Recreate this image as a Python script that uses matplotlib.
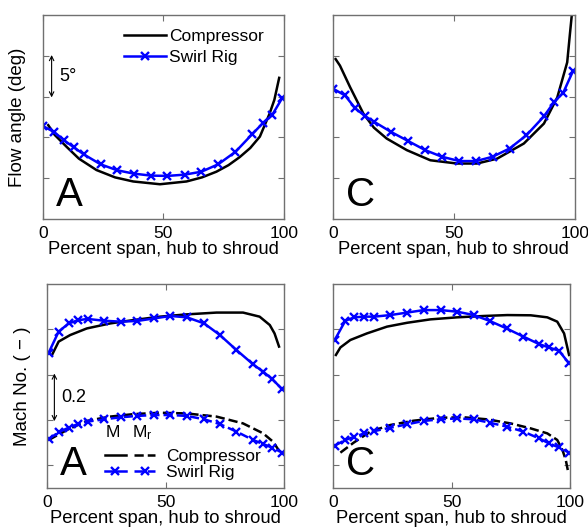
import matplotlib
matplotlib.use("Agg")
import matplotlib.pyplot as plt

plt.rcParams['font.family'] = ['Liberation Sans', 'DejaVu Sans']
plt.rcParams['font.size'] = 12
plt.rcParams['mathtext.default'] = 'regular'
plt.rcParams['legend.numpoints'] = 1

BLUE = '#0000ff'

# ---------------- flow angle, case A (deg, arbitrary offset) ----------------
angA_comp_x = [2.3, 5, 9.9, 15, 22.3, 30, 37.5, 48.6, 59.6, 66, 72, 77, 81.7, 86, 90, 94, 96, 98]
angA_comp_y = [11.5, 10.3, 8.85, 7.4, 6.0, 5.1, 4.6, 4.26, 4.6, 5.1, 5.8, 6.6, 7.6, 8.7, 10.1, 12.9, 14.6, 17.3]
swirl_x = [0.3, 4.7, 8.8, 13, 17.1, 24, 30.9, 37.8, 44.8, 51.7, 58.9, 65.8, 72.7, 79.9, 86.8, 91.3, 95, 99.3]
angA_swirl_y = [11.36, 10.67, 9.66, 8.77, 7.91, 6.7, 5.97, 5.56, 5.32, 5.28, 5.44, 5.8, 6.7, 8.24, 10.39, 11.77, 12.7, 14.85]

# ---------------- flow angle, case C ----------------
angC_comp_x = [1.2, 3, 7.2, 12.7, 17, 22.3, 30.6, 40.3, 51.3, 59.6, 67.9, 78.9, 87.2, 92.7, 96.8, 97.9, 99.2]
angC_comp_y = [19.6, 18.8, 16.15, 12.9, 11.2, 9.86, 8.44, 7.2, 6.8, 6.8, 7.4, 9.25, 11.7, 14.9, 19.2, 22.6, 26.5]
angC_swirl_x = [0.3, 5.1, 9.2, 13.4, 17.2, 24.1, 31, 38.2, 45.1, 52.3, 59.2, 66, 73, 80, 87.2, 91.3, 95.2, 99.3]
angC_swirl_y = [15.95, 15.14, 13.6, 12.6, 11.9, 10.67, 9.58, 8.44, 7.63, 7.1, 7.1, 7.63, 8.64, 10.27, 12.58, 14.3, 15.5, 18.2]

# ---------------- Mach numbers, case A ----------------
machA_comp_x = [2, 4.8, 9.7, 16.7, 26.5, 36.4, 47.6, 58.8, 71.5, 82.7, 89.7, 94, 96, 97.9]
machA_comp_M = [0.687, 0.746, 0.775, 0.804, 0.826, 0.841, 0.856, 0.866, 0.874, 0.874, 0.856, 0.819, 0.782, 0.724]
machA_comp_Mr_x = [0.6, 8.3, 16.7, 26.5, 36.4, 47.6, 58.8, 71.5, 82.7, 91.2, 95.4, 98.2]
machA_comp_Mr = [0.312, 0.356, 0.396, 0.415, 0.426, 0.432, 0.429, 0.415, 0.385, 0.341, 0.304, 0.26]
mach_swirl_x = [0.6, 4.8, 9, 12.9, 17, 24, 31, 38, 45, 52, 59, 66.3, 72.9, 79.9, 86.9, 91.2, 95, 99.3]
machA_swirl_M = [0.697, 0.79, 0.826, 0.84, 0.846, 0.838, 0.834, 0.837, 0.848, 0.859, 0.853, 0.826, 0.775, 0.709, 0.646, 0.613, 0.581, 0.535]
machA_swirl_Mr = [0.316, 0.346, 0.366, 0.382, 0.393, 0.403, 0.412, 0.418, 0.422, 0.422, 0.418, 0.403, 0.382, 0.349, 0.312, 0.294, 0.278, 0.256]

# ---------------- Mach numbers, case C ----------------
machC_comp_x = [1.1, 3, 7.2, 14.2, 22.7, 31.2, 41, 52.3, 63.6, 73.5, 83.4, 90.4, 94.6, 97.5, 99.6]
machC_comp_M = [0.687, 0.72, 0.753, 0.782, 0.812, 0.829, 0.844, 0.853, 0.859, 0.863, 0.862, 0.853, 0.834, 0.782, 0.687]
machC_comp_Mr_x = [3, 8.6, 15.7, 24.1, 34, 45.3, 55.1, 65, 74.9, 83.4, 90.4, 94.6, 96.8, 98.2, 99.2]
machC_comp_Mr = [0.256, 0.3, 0.349, 0.378, 0.397, 0.41, 0.412, 0.403, 0.385, 0.363, 0.341, 0.312, 0.268, 0.224, 0.172]
machC_swirl_x = [0.6, 5.1, 8.9, 13.1, 17.3, 24.1, 31.2, 38.2, 45.3, 52.3, 59.4, 66.1, 73.2, 80.3, 86.9, 91.1, 95.3, 99.6]
machC_swirl_M = [0.753, 0.838, 0.853, 0.856, 0.856, 0.863, 0.874, 0.885, 0.885, 0.878, 0.863, 0.837, 0.804, 0.768, 0.735, 0.72, 0.706, 0.65]
machC_swirl_Mr = [0.287, 0.312, 0.326, 0.341, 0.351, 0.366, 0.381, 0.396, 0.403, 0.407, 0.403, 0.388, 0.371, 0.349, 0.319, 0.297, 0.279, 0.256]

xticks = [0, 50, 100]
xlabel = 'Percent span, hub to shroud'

fig = plt.figure(figsize=(5.88, 5.29), dpi=100)
ax_tl = fig.add_axes([0.0726, 0.586, 0.4104, 0.3856])
ax_tr = fig.add_axes([0.5658, 0.586, 0.412, 0.3856])
ax_bl = fig.add_axes([0.0804, 0.0775, 0.4026, 0.3856])
ax_br = fig.add_axes([0.5668, 0.0775, 0.4026, 0.3856])


def style(ax, ylim, yticks, letter):
    ax.set_xlim(0, 100)
    ax.set_ylim(*ylim)
    ax.set_xticks(xticks)
    ax.set_yticks(yticks)
    ax.set_yticklabels([])
    ax.tick_params(direction='in', length=4, width=0.8, color='#707070',
                   top=True, right=True, labelsize=12.5, pad=5)
    for s in ax.spines.values():
        s.set_color('#707070')
        s.set_linewidth(1)
    ax.set_xlabel(xlabel, fontsize=13.2, labelpad=0)
    ax.text(0.055, 0.025, letter, transform=ax.transAxes, fontsize=29,
            ha='left', va='bottom')


lw = 1.8
mk = dict(marker='x', markersize=5.5, markeredgewidth=1.7)

# flow angle panels
l1, = ax_tl.plot(angA_comp_x, angA_comp_y, color='k', lw=lw, label='Compressor')
l2, = ax_tl.plot(swirl_x, angA_swirl_y, color=BLUE, lw=lw, label='Swirl Rig', **mk)
style(ax_tl, (0, 25), [5, 10, 15, 20], 'A')
ax_tl.set_ylabel('Flow angle (deg)', fontsize=13.5, labelpad=7)
ax_tl.legend(handles=[l1, l2], loc='upper left', bbox_to_anchor=(0.28, 1.0),
             frameon=False, handlelength=2.4, handletextpad=0.2, labelspacing=0.35,
             borderpad=0.3, fontsize=12.5, numpoints=1)
# 5 degree scale bar
ax_tl.annotate('', xy=(3.7, 20.1), xytext=(3.7, 14.9),
               arrowprops=dict(arrowstyle='<->', color='k', lw=0.8, shrinkA=0, shrinkB=0,
                               mutation_scale=8))
ax_tl.text(7.0, 17.5, '5°', fontsize=13, va='center')

ax_tr.plot(angC_comp_x, angC_comp_y, color='k', lw=lw)
ax_tr.plot(angC_swirl_x, angC_swirl_y, color=BLUE, lw=lw, **mk)
style(ax_tr, (0, 25), [5, 10, 15, 20], 'C')

# Mach number panels
m1, = ax_bl.plot(machA_comp_x, machA_comp_M, color='k', lw=lw)
m2, = ax_bl.plot(machA_comp_Mr_x, machA_comp_Mr, color='k', lw=lw, ls='--')
m3, = ax_bl.plot(mach_swirl_x, machA_swirl_M, color=BLUE, lw=lw, **mk)
m4, = ax_bl.plot(mach_swirl_x, machA_swirl_Mr, color=BLUE, lw=lw, ls='--', **mk)
style(ax_bl, (0.1, 1.0), [0.2, 0.4, 0.6, 0.8], 'A')
ax_bl.set_ylabel('Mach No. ( \u2212 )', fontsize=13.5, labelpad=7)
ax_bl.legend(handles=[m1, m3, m2, m4], labels=['', '', 'Compressor', 'Swirl Rig'],
             ncol=2, loc='lower left', bbox_to_anchor=(0.185, -0.03), frameon=False,
             handlelength=1.2, handletextpad=0.6, columnspacing=-0.1,
             labelspacing=0.05, borderpad=0.3, fontsize=12.5, numpoints=1)
ax_bl.text(0.275, 0.27, 'M', transform=ax_bl.transAxes, ha='center', va='center',
           fontsize=12.5)
ax_bl.text(0.36, 0.27, 'M$_{r}$', transform=ax_bl.transAxes, ha='left', va='center',
           fontsize=12.5)
# 0.2 scale bar
ax_bl.annotate('', xy=(3.0, 0.605), xytext=(3.0, 0.395),
               arrowprops=dict(arrowstyle='<->', color='k', lw=0.8, shrinkA=0, shrinkB=0,
                               mutation_scale=8))
ax_bl.text(6.0, 0.5, '0.2', fontsize=13, va='center')

ax_br.plot(machC_comp_x, machC_comp_M, color='k', lw=lw)
ax_br.plot(machC_comp_Mr_x, machC_comp_Mr, color='k', lw=lw, ls='--')
ax_br.plot(machC_swirl_x, machC_swirl_M, color=BLUE, lw=lw, **mk)
ax_br.plot(machC_swirl_x, machC_swirl_Mr, color=BLUE, lw=lw, ls='--', **mk)
style(ax_br, (0.1, 1.0), [0.2, 0.4, 0.6, 0.8], 'C')

fig.savefig('out.png', dpi=100)
